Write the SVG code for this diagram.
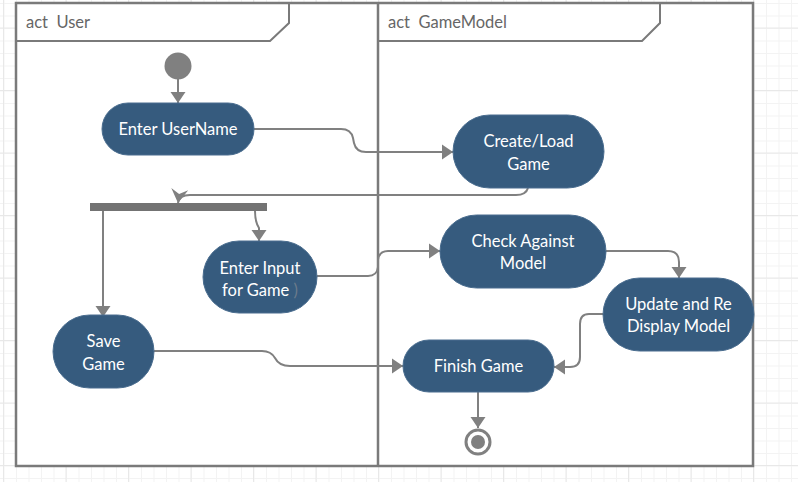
<svg xmlns="http://www.w3.org/2000/svg" width="798" height="482" viewBox="0 0 798 482">
<defs>
<style>
.frame{fill:none;stroke:#7a7a7a;stroke-width:2.5}
.hdr{fill:none;stroke:#7a7a7a;stroke-width:2}
.lbl{font-family:Lato,"Open Sans","Liberation Sans",sans-serif;font-size:16.5px;fill:#666;white-space:pre}
.node{fill:#365b7e;stroke:#4a6d8f;stroke-width:1}
.txt{font-family:Lato,"Open Sans","Liberation Sans",sans-serif;font-size:16.5px;fill:#ffffff;text-anchor:middle}
.edge{fill:none;stroke:#808080;stroke-width:2}
</style>
<pattern id="minor" x="3.5" y="3" width="12.5" height="12.5" patternUnits="userSpaceOnUse">
<path d="M0 0.5H12.5M0.5 0V12.5" stroke="#f3f3f3" stroke-width="1" fill="none"/>
</pattern>
<pattern id="major" x="65.5" y="27.5" width="62.5" height="62.5" patternUnits="userSpaceOnUse">
<path d="M0 0.5H62.5M0.5 0V62.5" stroke="#e8e8e8" stroke-width="1" fill="none"/>
</pattern>
<marker id="arr" viewBox="-1 -8 13 16" refX="11" refY="0" markerWidth="13" markerHeight="16" markerUnits="userSpaceOnUse" orient="auto">
<path d="M0,-7.5L11,0L0,7.5z" fill="#808080"/>
</marker>
<marker id="arrn" viewBox="-1 -9 16 18" refX="14" refY="0" markerWidth="16" markerHeight="18" markerUnits="userSpaceOnUse" orient="auto">
<path d="M0,-8.5L14,0L0,8.5L5,0z" fill="#808080"/>
</marker>
</defs>
<rect width="798" height="482" fill="#ffffff"/>
<rect width="798" height="482" fill="url(#minor)"/>
<rect width="798" height="482" fill="url(#major)"/>

<g id="frames">
<rect x="16" y="3" width="737" height="463" fill="#ffffff"/>
<rect x="16" y="3" width="737" height="463" class="frame"/>
<line x1="378" y1="3" x2="378" y2="466" class="frame"/>
<g id="lane-user">
<path d="M16 41H270L289 23V3" class="hdr"/>
<text x="26" y="28" class="lbl" xml:space="preserve">act  User</text>
</g>
<g id="lane-gamemodel">
<path d="M378 41H642L660 23V3" class="hdr"/>
<text x="388" y="28" class="lbl" xml:space="preserve">act  GameModel</text>
</g>
</g>

<g id="connectors">
<path d="M178 79V103" class="edge" marker-end="url(#arr)"/>
<path d="M254 129H341Q351 129 353 138L354 143Q356 152 366 152H453" class="edge" marker-end="url(#arr)"/>
<path d="M528 188Q526 195 516 195H190Q179 195 178 203" class="edge" marker-end="url(#arrn)"/>
<path d="M103 211V317" class="edge" marker-end="url(#arr)"/>
<path d="M255 211Q255 222 259 228V241" class="edge" marker-end="url(#arr)"/>
<path d="M317 276H368Q377 276 378 267V260Q379 251 388 251H440" class="edge" marker-end="url(#arr)"/>
<path d="M606 251H668Q679 251 679 262V278" class="edge" marker-end="url(#arr)"/>
<path d="M603 314H589Q580 314 580 324V357Q580 367 570 367H554" class="edge" marker-end="url(#arr)"/>
<path d="M154 351H262Q271 351 275 358Q279 366 290 366H403" class="edge" marker-end="url(#arr)"/>
<path d="M478 392V428" class="edge" marker-end="url(#arr)"/>
</g>

<g id="initial">
<circle cx="178" cy="66" r="13.5" fill="#808080"/>
</g>
<g id="bar">
<rect x="90" y="203" width="177" height="8" fill="#737373"/>
</g>
<g id="enter-username">
<rect x="102" y="103" width="152" height="52" rx="26" class="node"/>
<text x="178" y="134.5" class="txt">Enter UserName</text>
</g>
<g id="create-load">
<rect x="453" y="115" width="151" height="73" rx="36.5" class="node"/>
<text x="528.5" y="147" class="txt">Create/Load</text>
<text x="528.5" y="169.5" class="txt">Game</text>
</g>
<g id="enter-input">
<rect x="203" y="241" width="114" height="72" rx="36" class="node"/>
<text x="260" y="273.5" class="txt">Enter Input</text>
<text x="260" y="295.5" class="txt">for Game <tspan fill="#6d7c8c">)</tspan></text>
</g>
<g id="save-game">
<rect x="53" y="315" width="101" height="73" rx="36.5" class="node"/>
<text x="103.5" y="347" class="txt">Save</text>
<text x="103.5" y="369.5" class="txt">Game</text>
</g>
<g id="check">
<rect x="440" y="215" width="166" height="73" rx="36.5" class="node"/>
<text x="523" y="246.5" class="txt">Check Against</text>
<text x="523" y="268.5" class="txt">Model</text>
</g>
<g id="update">
<rect x="603" y="278" width="151" height="73" rx="36.5" class="node"/>
<text x="678.5" y="309.5" class="txt">Update and Re</text>
<text x="678.5" y="332" class="txt">Display Model</text>
</g>
<g id="finish">
<rect x="403" y="340" width="151" height="52" rx="26" class="node"/>
<text x="478.5" y="372" class="txt">Finish Game</text>
</g>
<g id="final">
<circle cx="478" cy="442" r="12" fill="#ffffff" stroke="#808080" stroke-width="3"/>
<circle cx="478" cy="442" r="7" fill="#808080"/>
</g>
</svg>
